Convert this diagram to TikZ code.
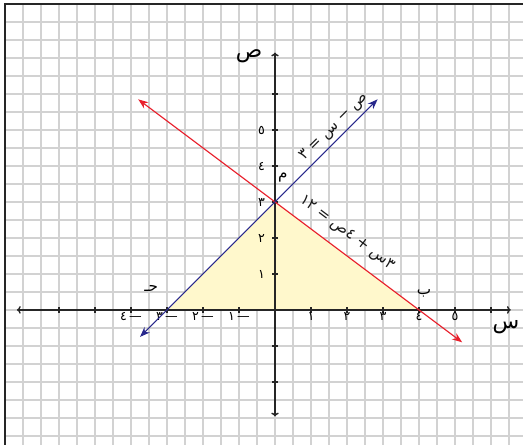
\documentclass[tikz,border=0pt]{standalone}
\usepackage{fontspec}
\newfontfamily\arabicfont[Script=Arabic]{DejaVu Sans}
\TeXXeTstate=1
\usetikzlibrary{calc,arrows.meta}

\definecolor{gridgray}{RGB}{210,210,210}
\definecolor{regionyellow}{RGB}{255,248,204}
\definecolor{lineRed}{RGB}{232,32,44}
\definecolor{lineBlue}{RGB}{40,40,140}

\begin{document}
\begin{tikzpicture}[font=\arabicfont,
    gridline/.style={gridgray, line width=1.1pt},
    frameline/.style={black!85, line width=1.2pt},
    axisline/.style={black!85, line width=1.1pt},
    tipped/.style={{Stealth[length=8pt,width=6pt]}-{Stealth[length=8pt,width=6pt]}},
    ticklabel/.style={font=\arabicfont, inner sep=0pt},
    eqlabel/.style={text=black!90, font=\arabicfont\large}]
        \useasboundingbox (-7.64,-3.75) rectangle (6.89,8.61);

        % Grid and frame
        \draw[gridline] (-7.5,-3.75) grid[step=0.5] (6.89,8.5);
        \draw[frameline] (-7.5,-3.75) -- (-7.5,8.5) -- (6.89,8.5);

        % Corners of the region
        \coordinate (A) at (0,3);
        \coordinate (B) at (4,0);
        \coordinate (C) at (-3,0);

        % Region
        \fill[regionyellow] (A) -- (B) -- (C) -- cycle;

        % Axes
        \coordinate (xL) at (-7.17,0);
        \coordinate (xR) at (6.55,0);
        \coordinate (yB) at (0,-2.96);
        \coordinate (yT) at (0,7.15);
        \draw[axisline, {To[length=3pt,width=6pt]}-{To[length=3pt,width=6pt]}] (xL) -- (xR);
        \draw[axisline, {To[length=3pt,width=6pt]}-{To[length=3pt,width=6pt]}] (yB) -- (yT);
        \node (sAx) at (6.42,-0.49) {\LARGE س};
        \node (yAx) at (-0.72,7.04) {\LARGE ص};

        % Ticks
        \foreach \x in {-6,...,-1,1,2,...,6}
          \draw[axisline] (\x,-0.08) -- (\x,0.08);
        \foreach \y in {-2,-1,1,2,...,6}
          \draw[axisline] (-0.08,\y) -- (0.08,\y);

        % Tick labels
        \foreach \x/\d in {1/١,2/٢,3/٣,4/٤,5/٥}
          \node[ticklabel, anchor=base] (xp\x) at (\x,-0.3) {\d};
        \foreach \x/\d in {1/١,2/٢,3/٣,4/٤}
          \node[ticklabel, anchor=base] (xn\x) at (-\x,-0.3) {\d\,—};
        \foreach \y/\d in {1/١,2/٢,3/٣,4/٤,5/٥}
          \node[ticklabel, anchor=base east] (yp\y) at (-0.27,\y-0.14) {\d};

        % Lines
        \coordinate (R1) at (-3.8,5.85);
        \coordinate (R2) at (5.2,-0.9);
        \coordinate (B1) at (-3.75,-0.75);
        \coordinate (B2) at (2.85,5.85);
        \draw[lineRed, line width=0.9pt, tipped] (R1) -- (R2)
          node[eqlabel, pos=0.61, sloped, above=5pt] (redEq)
            {\beginR ٣س + ٤ص = ١٢\endR};
        \draw[lineBlue, line width=0.9pt, tipped] (B1) -- (B2)
          node[eqlabel, pos=0.85, sloped, above] (blueEq)
            {\beginR ص − س = ٣\endR};

        % Corner labels
        \node (lblA) at ($(A)+(0.22,0.68)$) {\large م};
        \node (lblB) at ($(B)+(0.14,0.46)$) {\large ب};
        \node (lblC) at ($(C)+(-0.44,0.6)$) {\large حـ};

      \end{tikzpicture}
\end{document}
